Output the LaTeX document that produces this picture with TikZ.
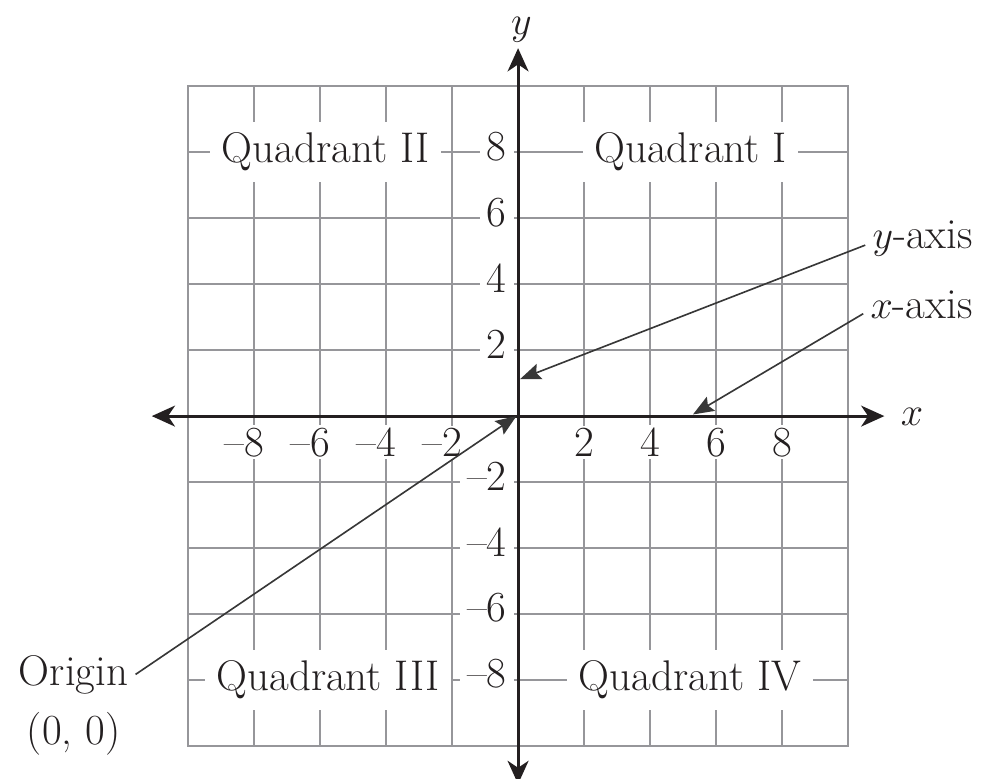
\documentclass[tikz,border=0pt]{standalone}
\usetikzlibrary{arrows.meta,positioning}
\definecolor{gridgray}{RGB}{150,150,154}
\definecolor{inkblack}{RGB}{35,31,32}
\definecolor{callgray}{RGB}{55,55,55}
\begin{document}
\begin{tikzpicture}[
		x=0.5cm, y=0.5cm,
		every node/.style={font=\fontsize{18.5}{24.5}\selectfont, text=inkblack},
		gridline/.style={draw=gridgray, line width=0.9pt},
		axisline/.style={draw=inkblack, line width=1.3pt, {Stealth[length=10pt,width=9pt,inset=3pt]}-{Stealth[length=10pt,width=9pt,inset=3pt]}},
		quad/.style={fill=white, inner xsep=5pt, inner ysep=4.5pt},
		xtick/.style={fill=white, inner xsep=1pt, inner ysep=1pt},
		ytick/.style={fill=white, anchor=east, inner xsep=3pt, inner ysep=1pt},
		callout/.style={inner sep=3pt},
		pointer/.style={draw=callgray, line width=0.7pt, -{Stealth[length=9pt,width=7pt,inset=1.5pt]}}
		]
		
		% Picture frame
		\useasboundingbox (-15.70,-10.97) rectangle (14.15,12.61);
		
		% Grid
		\draw[gridline] (-10,-10) rectangle (10,10);
		\foreach \g in {-8,-6,...,8} {
			\draw[gridline] (\g,-10) -- (\g,10);
			\draw[gridline] (-10,\g) -- (10,\g);
		}
		
		% Quadrant names
		\node[quad] (q1) at (5.23,8) {Quadrant I};
		\node[quad] (q2) at (-5.83,8) {Quadrant II};
		\node[quad] (q3) at (-5.76,-8) {Quadrant III};
		\node[quad] (q4) at (5.21,-8) {Quadrant IV};
		
		% Tick numbers
		\foreach \t in {2,4,6,8} {
			\node[xtick] (xp\t) at (\t,-0.79) {\t};
			\node[xtick] (xn\t) at (-\t,-0.79) {\llap{--}\t};
			\node[ytick] (yp\t) at (-0.12,\t+0.18) {\t};
			\node[ytick] (yn\t) at (-0.12,-\t+0.18) {--\t};
		}
		
		% Axes
		\coordinate (xl) at (-11.1,0);
		\coordinate (xr) at (11.1,0);
		\coordinate (yb) at (0,-11.15);
		\coordinate (yt) at (0,11.15);
		\draw[axisline] (xl) -- (xr);
		\draw[axisline] (yb) -- (yt);
		\node (xlab) at (11.94,-0.03) {$x$};
		\node (ylab) at (0.1,11.7) {$y$};
		
		% Callouts
		\node[callout, anchor=base west] (yax) at (10.52,5.09) {$y$-axis};
		\node[callout, anchor=base west] (xax) at (10.46,2.97) {$x$-axis};
		\node[callout, anchor=base] (orgn) at (-13.47,-8.15) {Origin};
		\node[callout, below=1.5pt of orgn] (orgxy) {(0, 0)};
		
		\coordinate (ytip) at (0.06,1.12);
		\coordinate (xtip) at (5.3,0.05);
		\coordinate (otip) at (-0.05,0);
		\draw[pointer] ([yshift=-3pt]yax.west) -- (ytip);
		\draw[pointer] ([yshift=-4pt]xax.west) -- (xtip);
		\draw[pointer] (orgn.east) -- (otip);
		
	\end{tikzpicture}
\end{document}
